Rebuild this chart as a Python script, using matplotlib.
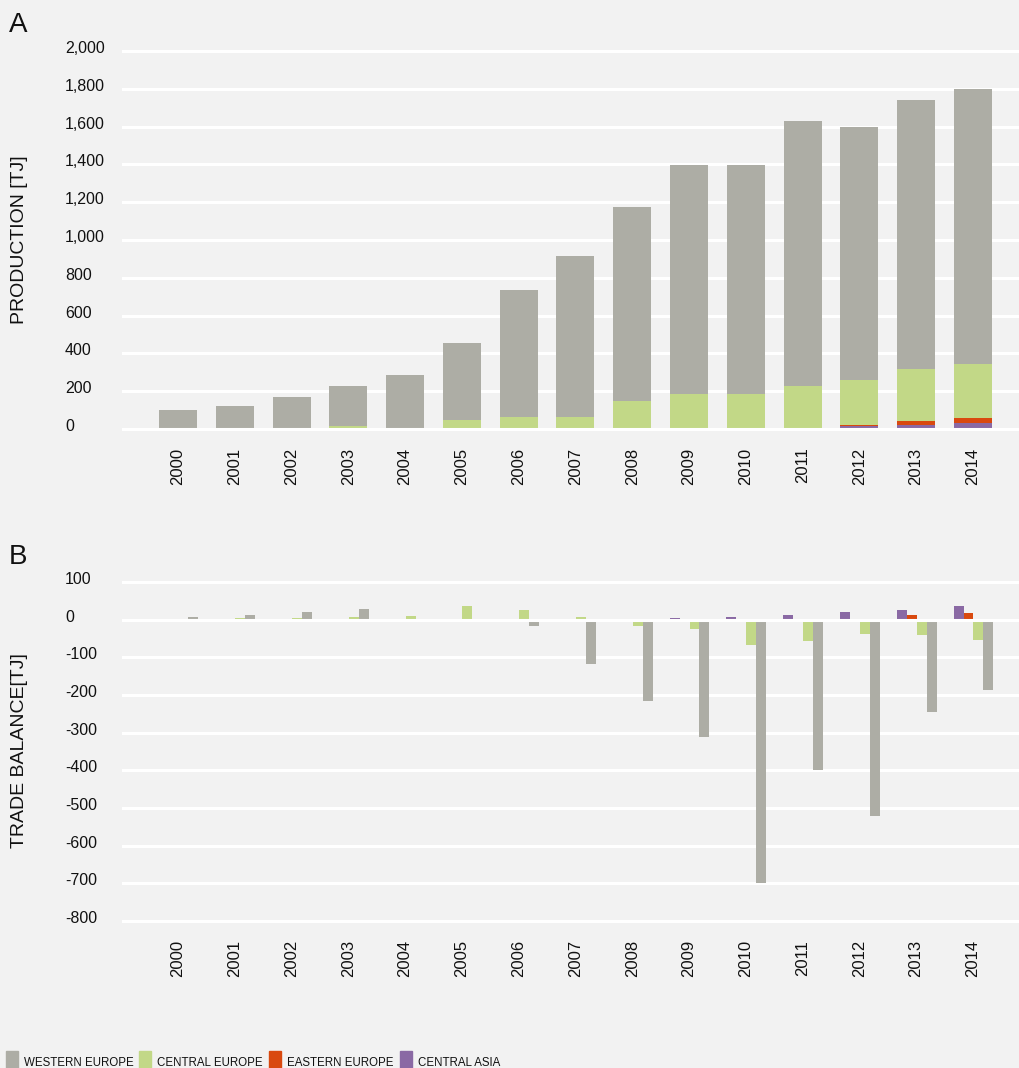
import matplotlib
matplotlib.use('Agg')
import matplotlib.pyplot as plt
import matplotlib.transforms as mtransforms
from matplotlib.patches import Rectangle
import numpy as np

years = [str(y) for y in range(2000, 2015)]

# production [TJ], stacked (bottom -> top: central asia, eastern, central, western)
prod_central_asia = [0, 0, 0, 0, 0, 0, 0, 0, 0, 0, 0, 6, 14, 20, 32]
prod_eastern = [0, 0, 0, 0, 0, 0, 0, 0, 0, 0, 5, 0, 5, 21, 26]
prod_central = [0, 6, 6, 14, 5, 48, 63, 63, 148, 185, 180, 222, 240, 276, 286]
prod_western = [100, 116, 163, 214, 281, 407, 673, 854, 1028, 1213, 1213, 1404, 1341, 1426, 1453]

# trade balance [TJ]
tb_central_asia = [0, 0, 0, 0, 0, 0, 0, 0, 0, 4, 8, 13, 21, 26, 37]
tb_eastern = [0, 0, 0, 0, 0, 0, 0, 0, 0, 0, 0, 0, 0, 13, 18]
tb_central = [0, 4, 4, 7, 10, 37, 26, 7, -18, -26, -67, -58, -37, -42, -53]
tb_western = [8, 13, 21, 29, -4, -4, -18, -119, -217, -312, -700, -400, -521, -246, -188]

prod_ticks = [0, 200, 400, 600, 800, 1000, 1200, 1400, 1600, 1800, 2000]
tb_ticks = [100, 0, -100, -200, -300, -400, -500, -600, -700, -800]

c_west = '#adada5'
c_central = '#c2d887'
c_east = '#d9490f'
c_asia = '#8a69a4'
bg = '#f2f2f2'

plt.rcParams['font.family'] = ['Liberation Sans', 'DejaVu Sans']

W, H = 1020, 1068
fig = plt.figure(figsize=(W / 100, H / 100), dpi=100, facecolor=bg)

ax1 = fig.add_axes([122 / W, 1 - 430.9 / H, 898 / W, (430.9 - 49.1) / H])
ax2 = fig.add_axes([122 / W, 1 - 924.8 / H, 898 / W, (924.8 - 578.2) / H])

x = np.arange(len(years))

# panel A
b0 = np.zeros(len(years))
for vals, col in [(prod_central_asia, c_asia), (prod_eastern, c_east),
                  (prod_central, c_central), (prod_western, c_west)]:
    ax1.bar(x, vals, 0.67, bottom=b0, color=col, zorder=2)
    b0 = b0 + np.array(vals)
ax1.set_ylim(-10, 2010)
ax1.set_yticks(prod_ticks)
ax1.set_yticklabels(['{:,}'.format(t) for t in prod_ticks])

# panel B
w = 0.175
for i, (vals, col) in enumerate([(tb_central_asia, c_asia), (tb_eastern, c_east),
                                 (tb_central, c_central), (tb_western, c_west)]):
    ax2.bar(x + (i - 1.5) * w + 0.01, vals, w, color=col, zorder=2)
ax2.set_ylim(-810, 110)
ax2.set_yticks(tb_ticks)
ax2.set_yticklabels([str(t) for t in tb_ticks])

for ax, xpad in [(ax1, 12), (ax2, 11)]:
    ax.set_facecolor(bg)
    ax.set_xlim(-0.986, 14.83)
    for s in ax.spines.values():
        s.set_visible(False)
    ax.grid(axis='y', color='white', lw=2.2)
    ax.set_axisbelow(True)
    ax.axhline(0, color='white', lw=2.2, zorder=3)
    ax.set_xticks(x)
    ax.set_xticklabels(years, rotation=90, fontsize=12, color='#111111')
    ax.tick_params(axis='x', length=0, pad=xpad)
    ax.tick_params(axis='y', length=0, pad=41, labelsize=11.5, labelcolor='#111111')
    off = mtransforms.ScaledTranslation(0, 4 / 100, fig.dpi_scale_trans)
    for lab in ax.get_yticklabels():
        lab.set_horizontalalignment('left')
        lab.set_transform(lab.get_transform() + off)

# panel letters and axis titles
fig.text(9 / W, 1 - 32 / H, 'A', fontsize=20, va='baseline', ha='left', color='#111111')
fig.text(9 / W, 1 - 564 / H, 'B', fontsize=20, va='baseline', ha='left', color='#111111')
fig.text(20 / W, 1 - 240 / H, 'PRODUCTION [TJ]', rotation=90, fontsize=14,
         ha='center', va='center', color='#111111')
fig.text(20 / W, 1 - 751 / H, 'TRADE BALANCE[TJ]', rotation=90, fontsize=14,
         ha='center', va='center', color='#111111')

# legend along the bottom edge
legend_items = ['WESTERN EUROPE', 'CENTRAL EUROPE', 'EASTERN EUROPE', 'CENTRAL ASIA']
legend_cols = [c_west, c_central, c_east, c_asia]
sq_x = [6, 139, 269, 400]
for lab, col, sx in zip(legend_items, legend_cols, sq_x):
    fig.patches.append(Rectangle((sx / W, 0), 12 / W, 17 / H, transform=fig.transFigure,
                                 color=col, figure=fig))
    fig.text((sx + 18) / W, 1 - 1066 / H, lab, fontsize=8.3, va='baseline', ha='left',
             color='#111111')

fig.savefig('out.png', dpi=100, facecolor=bg)
